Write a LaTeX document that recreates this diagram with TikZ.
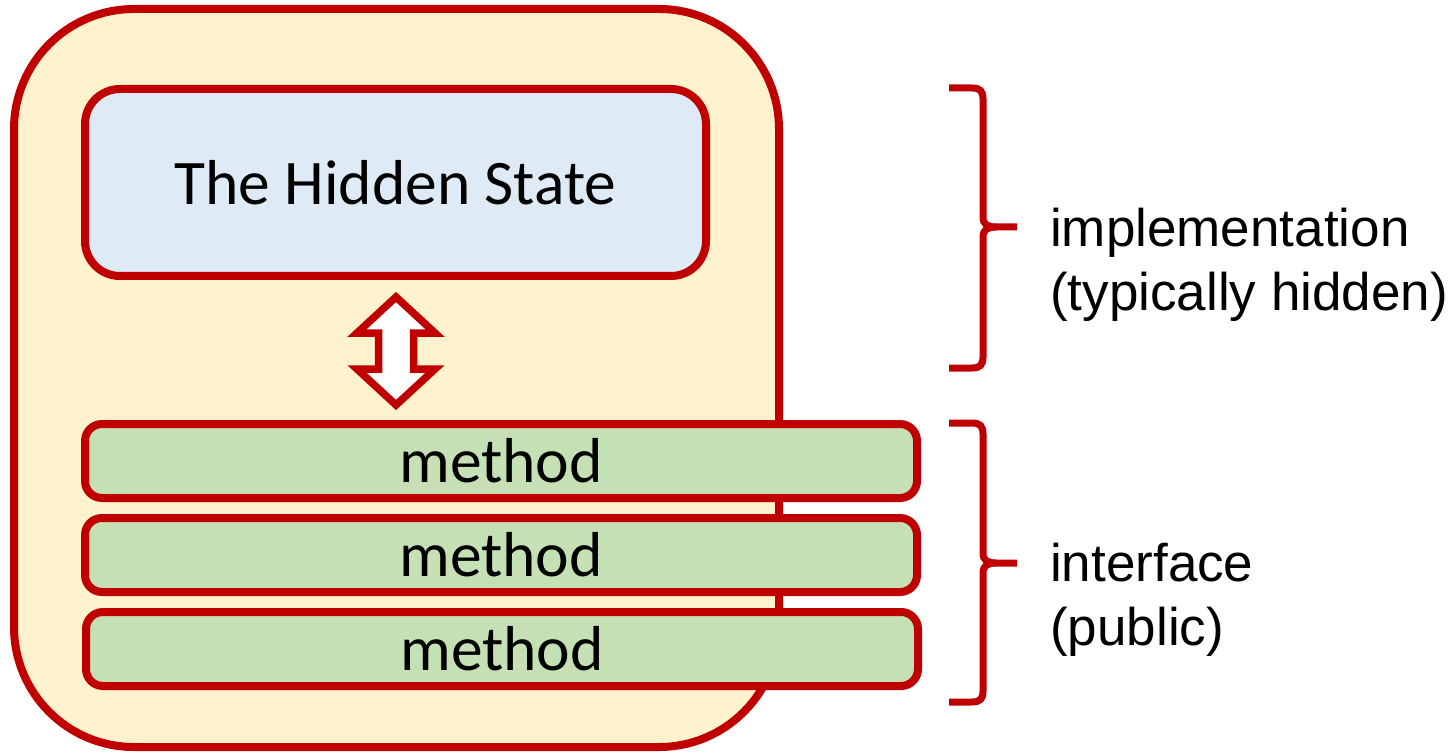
\documentclass[tikz,border=0pt]{standalone}
\usepackage{fontspec}
\setmainfont{Liberation Sans}
\newfontfamily\boxfont{Carlito}
\definecolor{edgered}{HTML}{C00000}
\definecolor{objfill}{HTML}{FFF2CC}
\definecolor{statefill}{HTML}{DEEBF7}
\definecolor{methodfill}{HTML}{C5E0B4}
\begin{document}
\begin{tikzpicture}[x=1pt,y=-1pt,
  objbox/.style={draw=edgered,fill=objfill,line width=8pt,rounded corners=120pt},
  statebox/.style={draw=edgered,fill=statefill,line width=8pt,rounded corners=35pt,
    inner sep=0pt,font=\boxfont\fontsize{63.5}{70}\selectfont},
  methodbox/.style={draw=edgered,fill=methodfill,line width=8pt,rounded corners=17pt,
    inner sep=0pt,minimum width=832pt,minimum height=74pt,
    font=\boxfont\fontsize{63.5}{70}\selectfont},
  linkarrow/.style={draw=edgered,fill=white,line width=7.5pt,line join=miter},
  bracket/.style={draw=edgered,line width=7pt,line cap=butt},
  label/.style={anchor=west,align=left,inner sep=0pt,
    font=\fontsize{53}{64}\selectfont}]
\useasboundingbox (0,0) rectangle (1452,754);

% the object
\draw[objbox] (14,9) rectangle (779,747);

% hidden state
\node[statebox,minimum width=621pt,minimum height=187pt] (state) at (395.5,182.5) {The Hidden State};

% interface methods
\node[methodbox] (m1) at (501,461) {method};
\node[methodbox] (m2) at (501,555) {method};
\node[methodbox] (m3) at (502,649) {method};

% two-way arrow between state and methods
\coordinate (atop) at (396,297);
\coordinate (abot) at (396,405);
\draw[linkarrow] (atop) -- ++(39,36) -- ++(-21.5,0) -- ++(0,36) -- ++(21.5,0)
  -- (abot) -- ++(-39,-36) -- ++(21.5,0) -- ++(0,-36) -- ++(-21.5,0) -- cycle;

% bracket for the implementation part
\coordinate (b1top) at (949,88);
\coordinate (b1tip) at (1017,227);
\coordinate (b1bot) at (949,368);
\draw[bracket] (b1top) -- (972,88) .. controls (980,88) and (983,91) .. (983,99)
  -- (983,217) .. controls (983,224) and (987,227) .. (996,227) -- (b1tip);
\draw[bracket] (b1bot) -- (972,368) .. controls (980,368) and (983,365) .. (983,357)
  -- (983,237) .. controls (983,230) and (987,227) .. (996,227);
\node[label] (impl) at (1050,265) {implementation\\(typically hidden)};

% bracket for the interface part
\coordinate (b2top) at (949,423);
\coordinate (b2tip) at (1017,563);
\coordinate (b2bot) at (949,702);
\draw[bracket] (b2top) -- (972,423) .. controls (980,423) and (983,426) .. (983,434)
  -- (983,553) .. controls (983,560) and (987,563) .. (996,563) -- (b2tip);
\draw[bracket] (b2bot) -- (972,702) .. controls (980,702) and (983,699) .. (983,691)
  -- (983,573) .. controls (983,566) and (987,563) .. (996,563);
\node[label] (iface) at (1050,600) {interface\\(public)};
\end{tikzpicture}
\end{document}
